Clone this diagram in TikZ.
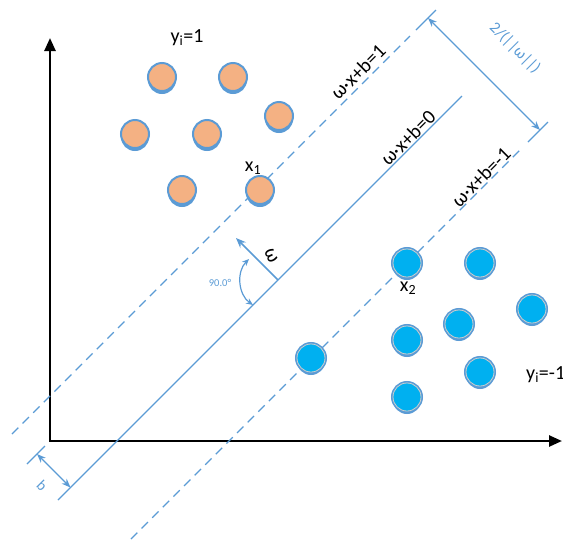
\documentclass[tikz,border=0pt]{standalone}
\usepackage{fontspec}
\setmainfont{Carlito}
\usetikzlibrary{arrows.meta,shadows}
\definecolor{lineblue}{RGB}{91,155,213}
\definecolor{posfill}{RGB}{244,177,131}
\definecolor{negfill}{RGB}{0,176,240}
\definecolor{ringgray}{RGB}{205,205,205}

\begin{document}
\begin{tikzpicture}[
  x=1pt, y=-1pt,
  axis/.style={line width=2.5pt, line join=miter,
               {Triangle[length=13pt,width=11pt]}-{Triangle[length=13pt,width=11pt]}},
  margin/.style={lineblue, line width=1.2pt, dash pattern=on 9pt off 6pt},
  plane/.style={lineblue, line width=1.2pt},
  dimline/.style={lineblue, line width=1.2pt,
                  {Stealth[length=9pt,width=7pt]}-{Stealth[length=9pt,width=7pt]}},
  normal/.style={lineblue, line width=1.6pt, -{Stealth[length=10pt,width=8pt]}},
  anglearc/.style={lineblue, line width=1.2pt,
                   {Stealth[length=7pt,width=6pt]}-{Stealth[length=7pt,width=6pt]}},
  eq/.style={font=\fontsize{20}{22}\selectfont, rotate=45, inner sep=1pt},
  lbl/.style={font=\fontsize{20}{22}\selectfont, inner sep=1pt},
  posc/.style={circle, minimum size=28pt, inner sep=0pt,
               drop shadow={shadow xshift=0pt, shadow yshift=-3pt, fill=lineblue, opacity=1},
               fill=posfill, draw=lineblue, line width=2pt},
  negc/.style={circle, minimum size=28pt, inner sep=0pt,
               drop shadow={shadow xshift=0pt, shadow yshift=-3pt, fill=lineblue, opacity=1},
               preaction={draw=lineblue, line width=4pt},
               fill=negfill, draw=ringgray, line width=0.8pt},
]
  \useasboundingbox (0,0) rectangle (563,539);

  % axes
  \coordinate (O) at (50,441);
  \coordinate (ytop) at (50,38);
  \coordinate (xend) at (562,441);
  \draw[axis] (ytop) -- (O) -- (xend);

  % hyperplane and margins
  \coordinate (m1a) at (12,434);
  \coordinate (m1b) at (410,36);
  \coordinate (h0a) at (58,500);
  \coordinate (h0b) at (462,96);
  \coordinate (m2a) at (131,539);
  \coordinate (m2b) at (522,148);
  \draw[margin] (m1a) -- (m1b);
  \draw[plane] (h0a) -- (h0b);
  \draw[margin] (m2a) -- (m2b);

  % margin width
  \coordinate (t1a) at (416,30);
  \coordinate (t1b) at (436,10);
  \coordinate (t2a) at (528,142);
  \coordinate (t2b) at (548,122);
  \coordinate (d1) at (428,18);
  \coordinate (d2) at (540,130);
  \draw[plane] (t1a) -- (t1b);
  \draw[plane] (t2a) -- (t2b);
  \draw[dimline] (d1) -- (d2);
  \node[text=lineblue, font=\fontsize{16}{18}\selectfont, rotate=-45] (wid) at (515,48) {2/(||ω||)};

  % offset b
  \coordinate (t0a) at (27,464);
  \coordinate (t0b) at (45,446);
  \coordinate (b1) at (37,454);
  \coordinate (b2) at (70.5,487.5);
  \draw[plane] (t0a) -- (t0b);
  \draw[dimline] (b1) -- (b2);
  \node[text=lineblue, font=\fontsize{15}{17}\selectfont, rotate=-45] (blbl) at (42,486) {b};

  % normal vector
  \coordinate (wf) at (278,280);
  \coordinate (wt) at (236,238);
  \draw[normal] (wf) -- (wt);
  \node[font=\fontsize{20}{22}\selectfont, rotate=-65] (wlbl) at (271,256) {ω};
  \coordinate (a1) at (249,259);
  \coordinate (a2) at (253,305);
  \draw[anglearc] (a1) to[bend right=50] (a2);
  \node[text=lineblue, font=\fontsize{10.5}{12}\selectfont] (ang) at (220,283) {90.0°};

  % equations
  \node[eq] (e1) at (358,72) {ω·x+b=1};
  \node[eq] (e0) at (408,138) {ω·x+b=0};
  \node[eq] (em) at (481,177) {ω·x+b=-1};

  % class +1
  \node[posc] (p1) at (162,77) {};
  \node[posc] (p2) at (233,77) {};
  \node[posc] (p3) at (279,116) {};
  \node[posc] (p4) at (135,134) {};
  \node[posc] (p5) at (207,134) {};
  \node[posc] (p6) at (182,190) {};
  \node[posc] (p7) at (260,190) {};

  % class -1
  \node[negc] (n1) at (407,263) {};
  \node[negc] (n2) at (480,263) {};
  \node[negc] (n3) at (532,309) {};
  \node[negc] (n4) at (459,324) {};
  \node[negc] (n5) at (407,340) {};
  \node[negc] (n6) at (480,372) {};
  \node[negc] (n7) at (407,397) {};
  \node[negc] (n8) at (311,358) {};

  \node[lbl] (ypos) at (187,38) {y\textsubscript{i}=1};
  \node[lbl, anchor=west] (yneg) at (525,375) {y\textsubscript{i}=-1};
  \node[lbl] (x1) at (253,168) {x\textsubscript{1}};
  \node[lbl] (x2) at (408,288) {x\textsubscript{2}};
\end{tikzpicture}
\end{document}
